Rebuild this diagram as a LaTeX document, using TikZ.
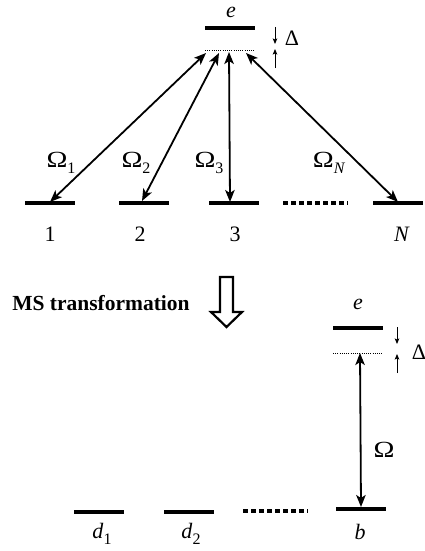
\documentclass[tikz,border=0pt]{standalone}
\usepackage{fontspec}
\usepackage{graphicx}
\setmainfont{Liberation Serif}
\usetikzlibrary{arrows.meta}
\newcommand\lsb[1]{\raisebox{-0.28em}{\fontsize{16}{16}\selectfont #1}}
\newcommand\bigOm{\scalebox{1.28}[1.05]{Ω}}
\begin{document}
\begin{tikzpicture}[x=1pt,y=-1pt,
  level/.style={line width=3.4pt},
  virt/.style={line width=1pt, dash pattern=on 1pt off 1.2pt},
  dotsrow/.style={line width=3.4pt, dash pattern=on 5pt off 3pt},
  coup/.style={line width=1.8pt, {Stealth[length=12pt,width=9.5pt,inset=3pt]}-{Stealth[length=12pt,width=9.5pt,inset=3pt]}},
  det/.style={line width=0.9pt, -{Stealth[length=5.5pt,width=4.5pt,inset=1pt]}},
  lab/.style={inner sep=0pt, font=\fontsize{22}{26}\selectfont},
  hollow/.style={line width=2.2pt, line join=miter}]
\useasboundingbox (0,0) rectangle (425,551);
% ---------- top scheme ----------
\draw[level] (205,28) -- (255,28);
\draw[virt] (205,51) -- (254,51);
\node[lab] (eT) at (231,12) {\textit{e}};
\coordinate (dTa) at (275,27); \coordinate (dTb) at (275,44);
\coordinate (dTc) at (275,68); \coordinate (dTd) at (275,49);
\draw[det] (dTa) -- (dTb);
\draw[det] (dTc) -- (dTd);
\node[lab] (DeltaT) at (292,38) {Δ};
% ground levels
\draw[level] (25,203) -- (75,203);
\draw[level] (119,203) -- (169,203);
\draw[level] (209,203) -- (259,203);
\draw[dotsrow] (283,203) -- (348,203);
\draw[level] (373,203) -- (423,203);
\node[lab] (n1) at (50,234) {1};
\node[lab] (n2) at (140,234) {2};
\node[lab] (n3) at (235,234) {3};
\node[lab] (nN) at (402,234) {\textit{N}};
% coupling arrows
\coordinate (u1) at (206,53); \coordinate (g1) at (50,202);
\coordinate (u2) at (219,53); \coordinate (g2) at (142,201);
\coordinate (u3) at (229,52); \coordinate (g3) at (230,202);
\coordinate (uN) at (246,53); \coordinate (gN) at (398,202);
\draw[coup] (u1) -- (g1);
\draw[coup] (u2) -- (g2);
\draw[coup] (u3) -- (g3);
\draw[coup] (uN) -- (gN);
\node[lab] (O1) at (61,163) {\bigOm\lsb{1}};
\node[lab] (O2) at (136,163) {\bigOm\lsb{2}};
\node[lab] (O3) at (209,163) {\bigOm\lsb{3}};
\node[lab] (ON) at (329,163) {\bigOm\lsb{\textit{N}}};
% ---------- transformation ----------
\node[inner sep=0pt, font=\fontsize{21.5}{24}\selectfont\bfseries] (ms) at (101,303) {MS transformation};
\draw[hollow] (220,277) -- (233,277) -- (233,312) -- (242,312) -- (226.5,327) -- (211,312) -- (220,312) -- cycle;
% ---------- bottom scheme ----------
\draw[level] (333,328) -- (383,328);
\draw[virt] (333,353) -- (383,353);
\node[lab] (eB) at (358,304) {\textit{e}};
\coordinate (dBa) at (397,327); \coordinate (dBb) at (397,344);
\coordinate (dBc) at (397,373); \coordinate (dBd) at (397,354);
\draw[det] (dBa) -- (dBb);
\draw[det] (dBc) -- (dBd);
\node[lab] (DeltaB) at (419,352) {Δ};
\draw[level] (74,512) -- (124,512);
\draw[level] (164,512) -- (214,512);
\draw[dotsrow] (243,511) -- (308,511);
\draw[level] (336,509) -- (386,509);
\coordinate (uB) at (360,353); \coordinate (gB) at (361,507);
\draw[coup] (uB) -- (gB);
\node[lab] (OB) at (384,450) {\bigOm};
\node[lab] (d1) at (102,534) {\textit{d}\lsb{1}};
\node[lab] (d2) at (191,534) {\textit{d}\lsb{2}};
\node[lab] (bB) at (360,532) {\textit{b}};
\end{tikzpicture}
\end{document}
